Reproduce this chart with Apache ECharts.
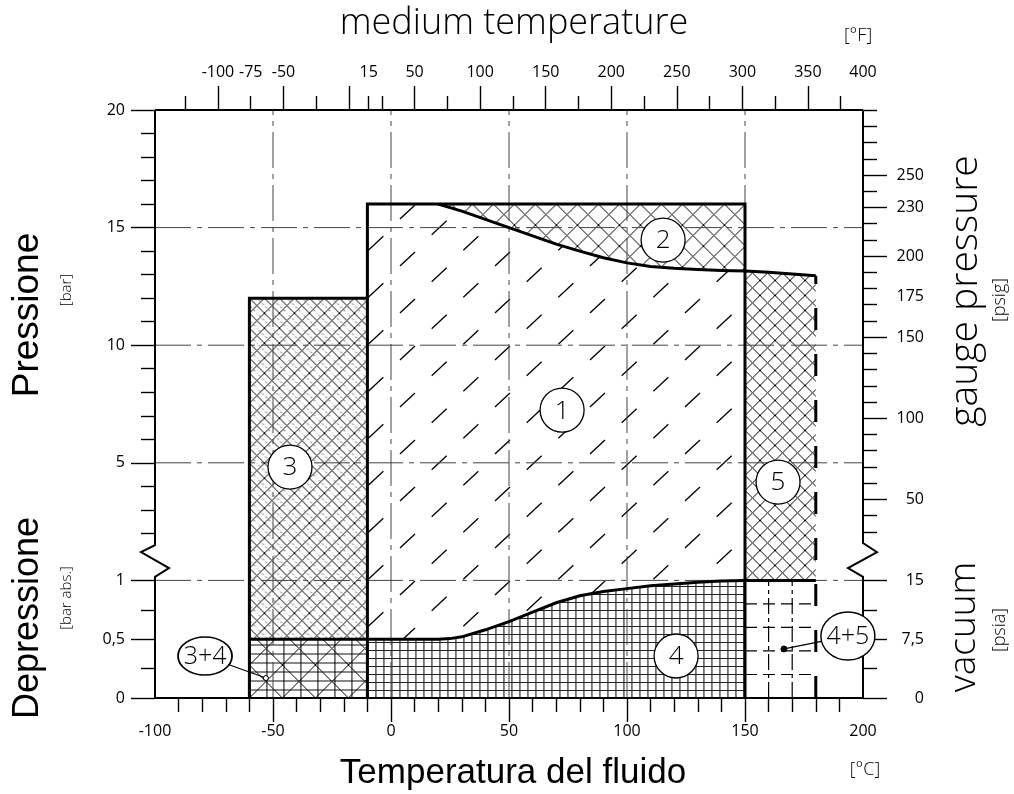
<!DOCTYPE html>
<html><head><meta charset="utf-8">
<script src="https://cdn.jsdelivr.net/npm/echarts@6/dist/echarts.min.js"></script>
<style>html,body{margin:0;padding:0;background:#fff}#c{width:1014px;height:794px}</style>
</head><body><div id="c"></div>
<script>
// ---------------- data ----------------
const T_MIN = -100, T_MAX = 200;                       // °C range of the plot
const BOTTOM_LABELS_C = [-100, -50, 0, 50, 100, 150, 200];
const BOTTOM_MAJOR_TICKS_C = [-50, 0, 50, 100, 150];
const BOTTOM_MINOR_TICKS_C = [-90,-80,-70,-60,-40,-30,-20,-10,10,20,30,40,60,70,80,90,110,120,130,140,160,170,180,190];
const TOP_LABELS_F = [-100, -75, -50, 15, 50, 100, 150, 200, 250, 300, 350, 400];
const TOP_MAJOR_TICKS_F = [-100, -50, 0, 50, 100, 150, 200, 250, 300, 350];
const TOP_MINOR_TICKS_F = [-125, -75, -25, 15, 25, 75, 125, 175, 225, 275, 325, 375];
const LEFT_ABS_LABELS = [0, 0.5, 1];                   // bar abs (vacuum part)
const LEFT_ABS_LABEL_TEXT = ['0', '0,5', '1'];
const LEFT_ABS_MINOR = [0.25, 0.75];
const LEFT_GAUGE_LABELS = [5, 10, 15, 20];             // bar gauge
const LEFT_GAUGE_MINOR = [2,3,4,6,7,8,9,11,12,13,14,16,17,18,19];
const RIGHT_PSIA_AT_ABS = [0, 0.5, 1];
const RIGHT_PSIA_LABEL_TEXT = ['0', '7,5', '15'];
const RIGHT_PSIG_LABELS = [50, 100, 150, 175, 200, 230, 250];
const RIGHT_PSIG_MAJOR = [50, 100, 150, 200, 230, 250];
const RIGHT_PSIG_MINOR = [30,40,60,70,80,90,110,120,130,140,160,170,180,190,210,220,240,260,270,280,290];
const GRID_T = [-50, 0, 50, 100, 150];
const GRID_GAUGE = [0, 5, 10, 15];
// upper limit curve of zone 1 (bar gauge)
const CURVE2_T = [20, 30, 40, 50, 60, 70, 80, 90, 100, 110, 120, 130, 140, 150, 160, 170, 180];
const CURVE2_P = [16.0, 15.7, 15.35, 15.0, 14.65, 14.3, 14.0, 13.72, 13.5, 13.35, 13.27, 13.22, 13.18, 13.15, 13.1, 13.03, 12.95];
// upper limit curve of zone 4 (bar abs)
const CURVE4_T = [-10, 20, 25, 30, 40, 50, 60, 70, 80, 90, 100, 110, 120, 130, 140, 150];
const CURVE4_A = [0.5, 0.5, 0.505, 0.52, 0.58, 0.65, 0.73, 0.81, 0.87, 0.905, 0.93, 0.955, 0.97, 0.985, 0.995, 1.0];
const ZONE3_T = [-60, -10], ZONE3_TOP_P = 12, ZONE_SPLIT_ABS = 0.5;
const ZONE1_T = [-10, 150], ZONE1_TOP_P = 16;
const ZONE5_T = [150, 180];
const ZONE45_T_LINES = [160, 170];
const ZONE45_A_LINES = [0.2, 0.4, 0.6, 0.8];
// zone bubbles: kind g = bar gauge, a = bar abs
const ZONE_LABELS = [
  {text: '1', t: 72.5, v: 7.24, kind: 'g'},
  {text: '2', t: 115.3, v: 14.47, kind: 'g'},
  {text: '3', t: -42.8, v: 4.82, kind: 'g'},
  {text: '5', t: 164, v: 4.18, kind: 'g'},
  {text: '4', t: 120.8, v: 0.357, kind: 'a'}
];
const ZONE_COMBO_LABELS = [
  {text: '3+4', t: -78.8, v: 0.357, dotT: -53, dotV: 0.17, rx: 27, ry: 19, dotFill: false},
  {text: '4+5', t: 193.6, v: 0.527, dotT: 166.5, dotV: 0.417, rx: 27, ry: 24, dotFill: true}
];

// ---------------- scales ----------------
const F_MIN = T_MIN * 9 / 5 + 32, F_MAX = T_MAX * 9 / 5 + 32;
const PSI_PER_BAR = 14.5038;
const gU = p => 1 + p / 5;           // gauge bar -> chart unit
const aU = a => a;                   // abs bar -> chart unit
const psigU = psi => gU(psi / PSI_PER_BAR);

const LEFT_LABEL_U = LEFT_ABS_LABELS.map(aU).concat(LEFT_GAUGE_LABELS.map(gU));
const LEFT_LABEL_TXT = LEFT_ABS_LABEL_TEXT.concat(LEFT_GAUGE_LABELS.map(String));
const LEFT_MINOR_U = LEFT_ABS_MINOR.map(aU).concat(LEFT_GAUGE_MINOR.map(gU));
const RIGHT_LABEL_U = RIGHT_PSIA_AT_ABS.map(aU).concat(RIGHT_PSIG_LABELS.map(psigU));
const RIGHT_LABEL_TXT = RIGHT_PSIA_LABEL_TEXT.concat(RIGHT_PSIG_LABELS.map(String));
const RIGHT_MAJOR_U = RIGHT_PSIA_AT_ABS.map(aU).concat(RIGHT_PSIG_MAJOR.map(psigU));
const RIGHT_MINOR_U = [0.25, 0.75].concat(RIGHT_PSIG_MINOR.map(psigU));
const TOP_LABEL_POS = TOP_LABELS_F.map(f => Math.min(f, F_MAX));
const TOP_LABEL_TXT = TOP_LABELS_F.map(String);

function lookupFmt(pos, txt) {
  return v => { for (let i = 0; i < pos.length; i++) if (Math.abs(pos[i] - v) < 1e-6) return txt[i]; return ''; };
}

// ---------------- hatch tiles ----------------
function tile(w, h, draw) { const c = document.createElement('canvas'); c.width = w; c.height = h; const g = c.getContext('2d'); draw(g, w, h); return c; }
function seg(g, x1, y1, x2, y2) { g.beginPath(); g.moveTo(x1, y1); g.lineTo(x2, y2); g.stroke(); }
function crossTile(s, lw, col) {
  return tile(s, s, (g) => {
    g.strokeStyle = col || '#000'; g.lineWidth = lw;
    for (const o of [-s, 0, s]) { seg(g, o - 1, -1, o + s + 1, s + 1); seg(g, o + s + 1, -1, o - 1, s + 1); }
  });
}
const TILE_X21 = crossTile(21, 1);
const TILE_X15 = crossTile(15, 1);
const TILE_X33 = crossTile(33, 1);
const TILE_GRID4 = tile(8, 8, g => { g.fillStyle = '#000'; g.fillRect(0, 0, 1, 8); g.fillStyle = '#222'; g.fillRect(0, 0, 8, 1); });
const TILE_GRID34 = tile(17, 9, g => { g.fillStyle = '#888'; g.fillRect(0, 0, 17, 2); g.fillStyle = '#000'; g.fillRect(0, 0, 1, 9); });
const TILE_Z3 = tile(15, 15, g => {
  g.strokeStyle = '#000'; g.lineWidth = 1;
  for (const o of [-15, 0, 15]) { seg(g, o - 1, -1, o + 16, 16); seg(g, o + 16, -1, o - 1, 16); }
  g.strokeStyle = '#333'; g.lineWidth = 1; g.setLineDash([2, 2.5]);
  for (const o of [-15, 0, 15]) { seg(g, o + 7.5 - 1, -1, o + 7.5 + 16, 16); }
});
const TILE_DASH = tile(95, 47, (g, w, h) => {
  g.strokeStyle = '#000'; g.lineWidth = 1.3;
  const base = [[0, 0], [31.67, 15.67], [63.33, 31.33]];
  for (const [bx, by] of base) for (const dx of [-w, 0, w]) for (const dy of [-h, 0, h])
    seg(g, bx + dx, by + dy, bx + dx + 15, by + dy - 14);
});

const TECH = "'Open Sans','DejaVu Sans',sans-serif";
const ARIAL = "'Liberation Sans',Arial,sans-serif";

// ---------------- drawing ----------------
function renderItem(params, api) {
  const P = (t, u) => api.coord([t, u]);
  const ch = [];
  const pat = (img, o) => ({image: img, repeat: 'repeat', x: o ? o[0] : 0, y: o ? o[1] : 0});
  const polygon = (pts, fill) => ch.push({type: 'polygon', silent: true, shape: {points: pts}, style: {fill: fill, stroke: null}});
  const polyline = (pts, st) => ch.push({type: 'polyline', silent: true, shape: {points: pts},
    style: Object.assign({fill: null, stroke: '#000', lineWidth: 3, lineJoin: 'miter', lineCap: 'butt'}, st || {})});

  const c2 = CURVE2_T.map((t, i) => P(t, gU(CURVE2_P[i])));
  const i150 = CURVE2_T.indexOf(ZONE5_T[0]);
  const c2a = c2.slice(0, i150 + 1);
  const c2b = c2.slice(i150);
  const c4 = CURVE4_T.map((t, i) => P(t, aU(CURVE4_A[i])));
  const [z3a, z3b] = ZONE3_T, [z1a, z1b] = ZONE1_T, [z5a, z5b] = ZONE5_T;
  const sU = aU(ZONE_SPLIT_ABS);

  // zone 4 (grid)
  polygon([P(z1a, 0), P(z1b, 0)].concat(c4.slice().reverse()), pat(TILE_GRID4, P(z1a, 0)));
  // zone 3+4
  const r34 = [P(z3a, 0), P(z3b, 0), P(z3b, sU), P(z3a, sU)];
  polygon(r34, pat(TILE_GRID34, P(z3a, 0)));
  polygon(r34, pat(TILE_X33, P(z3a, 0)));
  // zone 1 (dashed diagonals)
  polygon(c4.concat(c2a.slice().reverse(), [P(z1a, gU(ZONE1_TOP_P))]), pat(TILE_DASH, [400, 266]));
  // zone 2
  polygon(c2a.concat([P(z1b, gU(ZONE1_TOP_P))]), pat(TILE_X21, P(z1a, gU(ZONE1_TOP_P))));
  // zone 5
  polygon([P(z5a, gU(0)), P(z5b, gU(0))].concat(c2b.slice().reverse()), pat(TILE_X15, P(z5a, gU(0))));
  // zone 3
  polygon([P(z3a, sU), P(z3b, sU), P(z3b, gU(ZONE3_TOP_P)), P(z3a, gU(ZONE3_TOP_P))], pat(TILE_Z3, P(z3a, gU(ZONE3_TOP_P))));
  // zone 4+5 dashed grid
  ZONE45_T_LINES.forEach(t => polyline([P(t, 0), P(t, gU(0))], {lineWidth: 1.2, lineDash: [16, 4, 4, 4]}));
  ZONE45_A_LINES.forEach(a => polyline([P(z5a, aU(a)), P(z5b, aU(a))], {lineWidth: 1.2, lineDash: [12, 6]}));

  // dash-dot reference grid
  const gridSt = {lineWidth: 1, stroke: '#444', lineDash: [36, 6, 5, 6]};
  GRID_T.forEach(t => polyline([P(t, 0), P(t, 5)], gridSt));
  GRID_GAUGE.forEach(p => polyline([P(T_MIN, gU(p)), P(T_MAX, gU(p))], gridSt));

  // thick outlines
  polyline([P(z3a, 0), P(z3a, gU(ZONE3_TOP_P)), P(z3b, gU(ZONE3_TOP_P))]);
  polyline([P(z1a, 0), P(z1a, gU(ZONE1_TOP_P)), P(z1b, gU(ZONE1_TOP_P)), P(z1b, 0)]);
  polyline([P(z3a, sU)].concat(c4));
  polyline(c2);
  polyline([P(z5a, gU(0)), P(z5b, gU(0))]);
  polyline([P(z5b, 0), P(z5b, gU(CURVE2_P[CURVE2_P.length - 1]))], {lineDash: [22, 24]});

  // frame with break symbols
  const off = (p, dx) => [p[0] + dx, p[1]];
  const fr = {lineWidth: 2};
  polyline([P(T_MIN, 0), P(T_MIN, 1.03), off(P(T_MIN, 1.105), 14), off(P(T_MIN, 1.241), -14), P(T_MIN, 1.30), P(T_MIN, 5)], fr);
  polyline([P(T_MAX, 0), P(T_MAX, 1.03), off(P(T_MAX, 1.105), -15), off(P(T_MAX, 1.241), 14), P(T_MAX, 1.318), P(T_MAX, 5)], fr);
  polyline([P(T_MIN, 5), P(T_MAX, 5)], fr);
  polyline([P(T_MIN, 0), P(T_MAX, 0)], fr);

  // zone bubbles
  ZONE_LABELS.forEach(z => {
    const c = P(z.t, z.kind === 'g' ? gU(z.v) : aU(z.v));
    ch.push({type: 'circle', silent: true, shape: {cx: c[0], cy: c[1], r: 22}, style: {fill: '#fff', stroke: '#000', lineWidth: 1.3}});
    ch.push({type: 'text', silent: true, x: c[0], y: c[1] + 1, style: {text: z.text, fill: '#000', font: '300 26px ' + TECH, align: 'center', verticalAlign: 'middle'}});
  });
  ZONE_COMBO_LABELS.forEach(z => {
    const c = P(z.t, aU(z.v)), d = P(z.dotT, aU(z.dotV));
    const dx = d[0] - c[0], dy = d[1] - c[1];
    const k = 1 / Math.sqrt((dx / z.rx) ** 2 + (dy / z.ry) ** 2);
    ch.push({type: 'line', silent: true, shape: {x1: c[0] + dx * k, y1: c[1] + dy * k, x2: d[0], y2: d[1]}, style: {stroke: '#000', lineWidth: 1.2}});
    ch.push({type: 'circle', silent: true, shape: {cx: d[0], cy: d[1], r: z.dotFill ? 3 : 2.5}, style: {fill: z.dotFill ? '#000' : '#fff', stroke: '#000', lineWidth: 1}});
    ch.push({type: 'circle', silent: true, x: c[0], y: c[1], scaleX: z.rx / z.ry, shape: {cx: 0, cy: 0, r: z.ry}, style: {fill: '#fff', stroke: '#000', lineWidth: 1.3, strokeNoScale: true}});
    ch.push({type: 'text', silent: true, x: c[0], y: c[1] + 1, style: {text: z.text, fill: '#000', font: '300 25px ' + TECH, align: 'center', verticalAlign: 'middle'}});
  });
  return {type: 'group', children: ch};
}

// ---------------- axes ----------------
const tickStyle = {color: '#000', width: 1.4};
const lblBase = {color: '#000', fontFamily: TECH, fontSize: 16, fontWeight: 400};
function ax(extra) {
  return Object.assign({type: 'value', gridIndex: 0, axisLine: {show: false, onZero: false}, splitLine: {show: false}, minorTick: {show: false}}, extra);
}
const option = {
  animation: false,
  backgroundColor: '#fff',
  grid: {left: 155, top: 110, width: 708, height: 588, containLabel: false},
  xAxis: [
    ax({position: 'bottom', min: T_MIN, max: T_MAX,
      axisTick: {show: true, inside: false, customValues: BOTTOM_MINOR_TICKS_C, length: 14, lineStyle: tickStyle},
      axisLabel: Object.assign({show: true, customValues: BOTTOM_LABELS_C, margin: 25, formatter: v => String(v)}, lblBase)}),
    ax({position: 'bottom', min: T_MIN, max: T_MAX,
      axisTick: {show: true, inside: false, customValues: BOTTOM_MAJOR_TICKS_C, length: 24, lineStyle: tickStyle}, axisLabel: {show: false}}),
    ax({position: 'top', min: F_MIN, max: F_MAX,
      axisTick: {show: true, inside: false, customValues: TOP_MINOR_TICKS_F, length: 14, lineStyle: tickStyle},
      axisLabel: Object.assign({show: true, customValues: TOP_LABEL_POS, margin: 30, formatter: lookupFmt(TOP_LABEL_POS, TOP_LABEL_TXT)}, lblBase)}),
    ax({position: 'top', min: F_MIN, max: F_MAX,
      axisTick: {show: true, inside: false, customValues: TOP_MAJOR_TICKS_F, length: 24, lineStyle: tickStyle}, axisLabel: {show: false}})
  ],
  yAxis: [
    ax({position: 'left', min: 0, max: 5,
      axisTick: {show: true, inside: false, customValues: LEFT_MINOR_U, length: 14, lineStyle: tickStyle}, axisLabel: {show: false}}),
    ax({position: 'left', min: 0, max: 5,
      axisTick: {show: true, inside: false, customValues: LEFT_LABEL_U, length: 24, lineStyle: tickStyle},
      axisLabel: Object.assign({show: true, customValues: LEFT_LABEL_U, margin: 30, formatter: lookupFmt(LEFT_LABEL_U, LEFT_LABEL_TXT)}, lblBase)}),
    ax({position: 'right', min: 0, max: 5,
      axisTick: {show: true, inside: false, customValues: RIGHT_MINOR_U, length: 14, lineStyle: tickStyle}, axisLabel: {show: false}}),
    ax({position: 'right', min: 0, max: 5,
      axisTick: {show: true, inside: false, customValues: RIGHT_MAJOR_U, length: 24, lineStyle: tickStyle},
      axisLabel: Object.assign({show: true, customValues: RIGHT_LABEL_U, margin: 61, align: 'right', formatter: lookupFmt(RIGHT_LABEL_U, RIGHT_LABEL_TXT)}, lblBase)})
  ],
  series: [{
    type: 'custom', coordinateSystem: 'cartesian2d', xAxisIndex: 0, yAxisIndex: 0,
    data: [[0, 0]], renderItem: renderItem, silent: true, clip: false, z: 2
  }],
  graphic: [
    {type: 'text', x: 514, y: 24, style: {text: 'medium temperature', font: '300 36px ' + TECH, fill: '#000', align: 'center', verticalAlign: 'middle'}},
    {type: 'text', x: 858, y: 36, style: {text: '[°F]', font: '300 18px ' + TECH, fill: '#000', align: 'center', verticalAlign: 'middle'}},
    {type: 'text', x: 513, y: 773, style: {text: 'Temperatura del fluido', font: '35px ' + ARIAL, fill: '#000', align: 'center', verticalAlign: 'middle'}},
    {type: 'text', x: 865, y: 770, style: {text: '[°C]', font: '300 18px ' + TECH, fill: '#000', align: 'center', verticalAlign: 'middle'}},
    {type: 'text', x: 28, y: 315, rotation: Math.PI / 2, style: {text: 'Pressione', font: '37px ' + ARIAL, fill: '#000', align: 'center', verticalAlign: 'middle'}},
    {type: 'text', x: 67, y: 290, rotation: Math.PI / 2, style: {text: '[bar]', font: '300 15px ' + TECH, fill: '#000', align: 'center', verticalAlign: 'middle'}},
    {type: 'text', x: 28, y: 618, rotation: Math.PI / 2, style: {text: 'Depressione', font: '36px ' + ARIAL, fill: '#000', align: 'center', verticalAlign: 'middle'}},
    {type: 'text', x: 67, y: 598, rotation: Math.PI / 2, style: {text: '[bar abs.]', font: '300 15px ' + TECH, fill: '#000', align: 'center', verticalAlign: 'middle'}},
    {type: 'text', x: 966, y: 291, rotation: Math.PI / 2, style: {text: 'gauge pressure', font: '300 39px ' + TECH, fill: '#000', align: 'center', verticalAlign: 'middle'}},
    {type: 'text', x: 1000, y: 300, rotation: Math.PI / 2, style: {text: '[psig]', font: '300 18px ' + TECH, fill: '#000', align: 'center', verticalAlign: 'middle'}},
    {type: 'text', x: 964, y: 627, rotation: Math.PI / 2, style: {text: 'vacuum', font: '300 37px ' + TECH, fill: '#000', align: 'center', verticalAlign: 'middle'}},
    {type: 'text', x: 1000, y: 630, rotation: Math.PI / 2, style: {text: '[psia]', font: '300 18px ' + TECH, fill: '#000', align: 'center', verticalAlign: 'middle'}}
  ]
};
const chart = echarts.init(document.getElementById('c'), null, {renderer: 'canvas'});
chart.setOption(option);
</script>
</body></html>
